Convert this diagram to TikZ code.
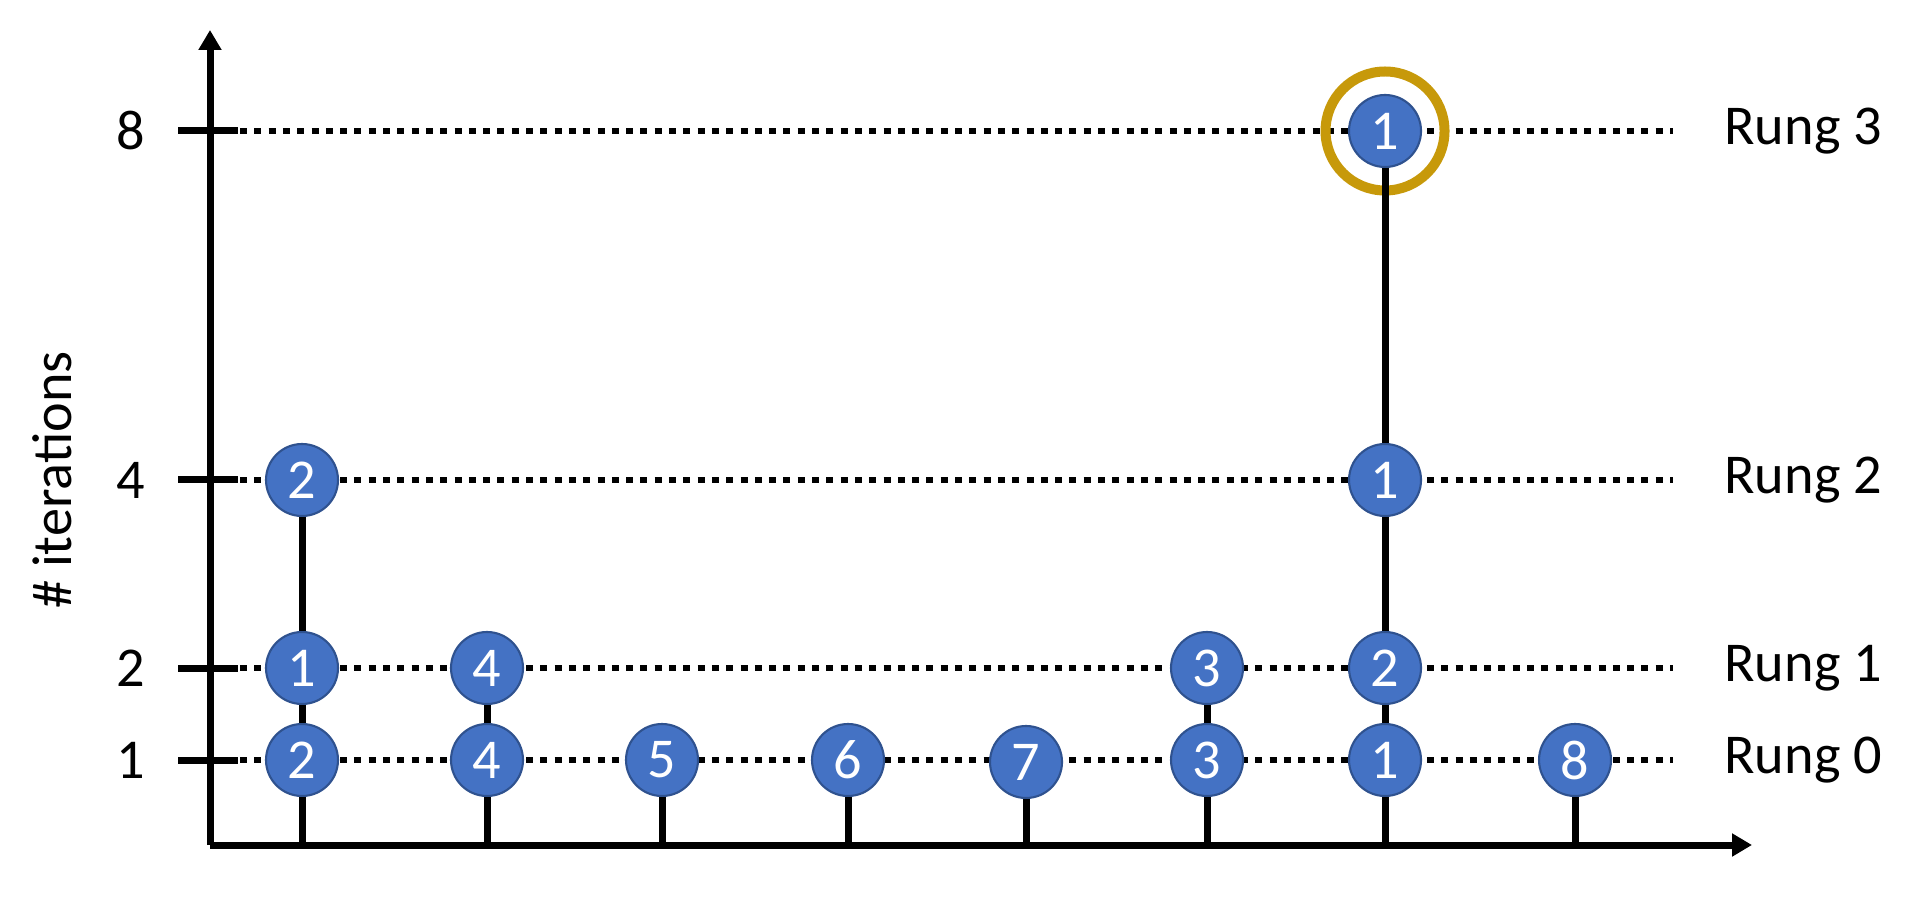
\documentclass[tikz,border=0pt]{standalone}
\usepackage{fontspec}
\setmainfont{Carlito}
\usetikzlibrary{arrows.meta,positioning,backgrounds}
\definecolor{TrialBlue}{RGB}{68,114,196}
\definecolor{TrialBlueDark}{RGB}{47,82,143}
\definecolor{BestGold}{RGB}{199,153,10}
\tikzset{
  trial/.style={circle, fill=TrialBlue, draw=TrialBlueDark, line width=0.6pt,
                minimum size=7.2mm, inner sep=0pt, text=white,
                font=\fontsize{16}{19}\selectfont},
  best/.style={circle, draw=BestGold, line width=1mm, minimum size=11.9mm, inner sep=0pt},
  axis/.style={-{Triangle[length=2mm,width=2.2mm]}, line width=0.7mm},
  stem/.style={line width=0.7mm},
  rungline/.style={line width=0.65mm, dash pattern=on 0.7mm off 0.73mm},
  tickmark/.style={line width=0.7mm},
  lbl/.style={font=\fontsize{16}{19}\selectfont},
}

\begin{document}
\begin{tikzpicture}[x=0.1mm, y=-0.1mm]
  \useasboundingbox (0,0) rectangle (1922,915);

  % Axes
  \coordinate (o) at (210,845);
  \draw[axis] (o) -- (210,30);
  \draw[axis] (o) -- (1752,845);
  \node[lbl, rotate=90] (ylabel) at (52,480) {\# iterations};

  % Rungs
  \foreach \y/\it/\r in {760/1/0, 668/2/1, 480/4/2, 131/8/3}{
    \draw[tickmark] (178,\y) -- (238,\y);
    \node[lbl, anchor=east] (tick\r) at (157,\y) {\it};
    \node[lbl, anchor=west] (rung\r) at (1712,\y) {Rung \r};
  }

  % Configurations
  \node[trial] (a0) at (302,760) {2};
  \node[trial] (a1) at (302,668) {1};
  \node[trial] (a2) at (302,480) {2};
  \node[trial] (b0) at (487,760) {4};
  \node[trial] (b1) at (487,668) {4};
  \node[trial] (c0) at (662,760) {5};
  \node[trial] (d0) at (848,760) {6};
  \node[trial] (e0) at (1026,762) {7};
  \node[trial] (f0) at (1207,760) {3};
  \node[trial] (f1) at (1207,668) {3};
  \node[trial] (g0) at (1385,760) {1};
  \node[trial] (g1) at (1385,668) {2};
  \node[trial] (g2) at (1385,480) {1};
  \node[trial] (g3) at (1385,131) {1};
  \node[trial] (h0) at (1575,760) {8};
  \node[best] (win) at (g3) {};

  \begin{scope}[on background layer]
    \foreach \y in {760,668,480,131}
      \draw[rungline] (240,\y) -- (1673,\y);
  \end{scope}

  % Stems
  \foreach \n/\x in {a0/302, b0/487, c0/662, d0/848, e0/1026, f0/1207, g0/1385, h0/1575}{
    \coordinate (base-\n) at (\x,845);
    \draw[stem] (base-\n) -- (\n);
  }
  \draw[stem] (a0) -- (a1) -- (a2);
  \draw[stem] (b0) -- (b1);
  \draw[stem] (f0) -- (f1);
  \draw[stem] (g0) -- (g1) -- (g2) -- (g3);
\end{tikzpicture}
\end{document}
